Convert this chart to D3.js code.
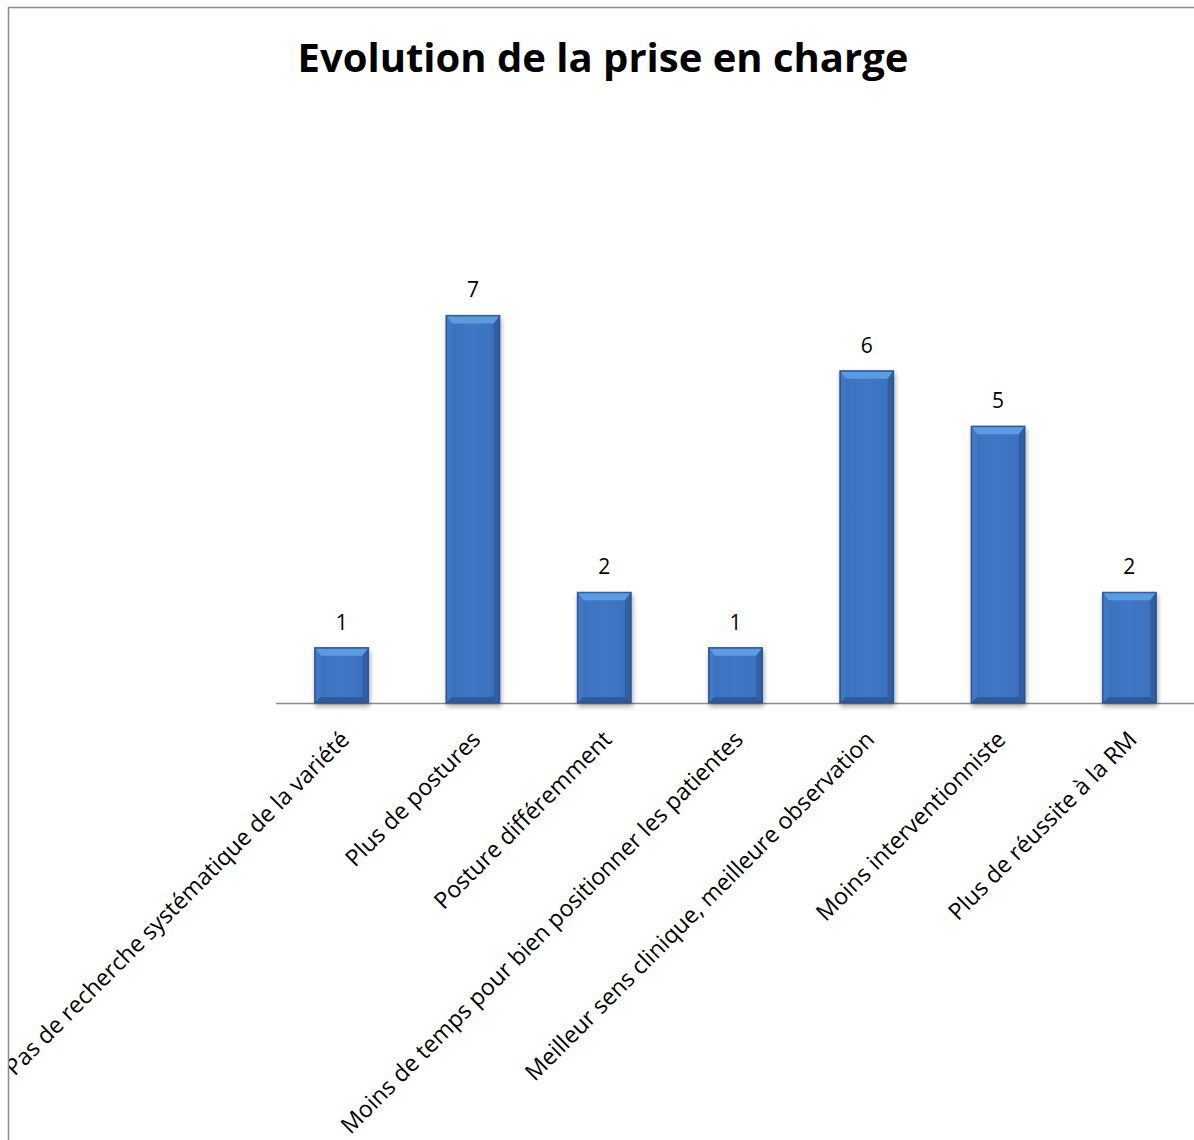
<!DOCTYPE html>
<html><head><meta charset="utf-8">
<script src="https://cdn.jsdelivr.net/npm/d3@7"></script>
<style>body{margin:0;background:#fff}svg{display:block}</style>
</head><body>
<script>
const categories = [
  "Pas de recherche systématique de la variété",
  "Plus de postures",
  "Posture différemment",
  "Moins de temps pour bien positionner les patientes",
  "Meilleur sens clinique, meilleure observation",
  "Moins interventionniste",
  "Plus de réussite à la RM"
];
const values = [1, 7, 2, 1, 6, 5, 2];
const title = "Evolution de la prise en charge";

const W = 1194, H = 1140;
const font = "'Open Sans', 'Noto Sans', sans-serif";
const svg = d3.select("body").append("svg").attr("width", W).attr("height", H);

svg.append("text").attr("x", 603).attr("y", 72).attr("text-anchor","middle")
  .attr("font-family", font).attr("font-weight","bold").attr("font-size", 40).attr("fill","#000").text(title);

const x = d3.scaleBand().domain(categories).range([276, 1195]).paddingInner(0.59).paddingOuter(0.295);
const y = d3.scaleLinear().domain([0, 8]).range([703, 260]);

const defs = svg.append("defs");
const f = defs.append("filter").attr("id","sh").attr("x","-30%").attr("y","-10%").attr("width","160%").attr("height","130%");
f.append("feGaussianBlur").attr("in","SourceAlpha").attr("stdDeviation",2.5);
f.append("feOffset").attr("dx",1).attr("dy",3).attr("result","b");
f.append("feComponentTransfer").append("feFuncA").attr("type","linear").attr("slope",0.35);
const m = f.append("feMerge"); m.append("feMergeNode"); m.append("feMergeNode").attr("in","SourceGraphic");

const body = defs.append("linearGradient").attr("id","bodyg").attr("x1",0).attr("x2",1).attr("y1",0).attr("y2",0);
body.append("stop").attr("offset","0").attr("stop-color","#3a70bd");
body.append("stop").attr("offset","0.5").attr("stop-color","#3f78c6");
body.append("stop").attr("offset","1").attr("stop-color","#3a6fbb");

// baseline
svg.append("line").attr("x1",276).attr("x2",W).attr("y1",703.5).attr("y2",703.5).attr("stroke","#8c8c8c").attr("stroke-width",1.5);

const bw = x.bandwidth(), bev = 6;
const g = svg.selectAll("g.bar").data(values).join("g").attr("class","bar").attr("filter","url(#sh)");
g.append("rect").attr("x",(d,i)=>x(categories[i])).attr("y",d=>y(d)).attr("width",bw).attr("height",d=>y(0)-y(d))
  .attr("fill","url(#bodyg)").attr("stroke","#2c5592").attr("stroke-width",1);
g.append("path").attr("d",(d,i)=>{const x0=x(categories[i]),y0=y(d);return `M${x0},${y0}H${x0+bw}L${x0+bw-bev},${y0+bev+2}H${x0+bev}Z`;})
  .attr("fill","#5c9be2");
g.append("path").attr("d",(d,i)=>{const x0=x(categories[i]),y0=y(d),yb=y(0);return `M${x0},${y0}L${x0+bev},${y0+bev+2}V${yb-bev}L${x0},${yb}Z`;})
  .attr("fill","#4278c2");
g.append("path").attr("d",(d,i)=>{const x0=x(categories[i])+bw,y0=y(d),yb=y(0);return `M${x0},${y0}L${x0-bev},${y0+bev+2}V${yb-bev}L${x0},${yb}Z`;})
  .attr("fill","#335f9f");
g.append("path").attr("d",(d,i)=>{const x0=x(categories[i]),yb=y(0);return `M${x0},${yb}L${x0+bev},${yb-bev}H${x0+bw-bev}L${x0+bw},${yb}Z`;})
  .attr("fill","#2f5a98");
g.append("rect").attr("x",(d,i)=>x(categories[i])+0.5).attr("y",d=>y(d)+0.5).attr("width",bw-1).attr("height",d=>y(0)-y(d)-1)
  .attr("fill","none").attr("stroke","#2a5290").attr("stroke-width",1);

// value labels
svg.selectAll("text.val").data(values).join("text").attr("class","val")
  .attr("x",(d,i)=>x(categories[i])+bw/2).attr("y",d=>y(d)-18).attr("text-anchor","middle")
  .attr("font-family",font).attr("font-size",21).attr("fill","#000").text(d=>d);

// category labels
svg.selectAll("text.cat").data(categories).join("text").attr("class","cat")
  .attr("transform",d=>`translate(${x(d)+bw/2+9},${741}) rotate(-45)`)
  .attr("text-anchor","end")
  .attr("font-family",font).attr("font-size",23.2).attr("fill","#000").text(d=>d);

// chart frame (drawn on top, as in the reference where it overlaps the first label)
svg.append("rect").attr("x",0).attr("y",0).attr("width",8).attr("height",H).attr("fill","#fff");
svg.append("path").attr("d", `M8.5,${H}V7.5H${W}`).attr("fill","none").attr("stroke","#8c8c8c").attr("stroke-width",1.5);
</script>
</body></html>
